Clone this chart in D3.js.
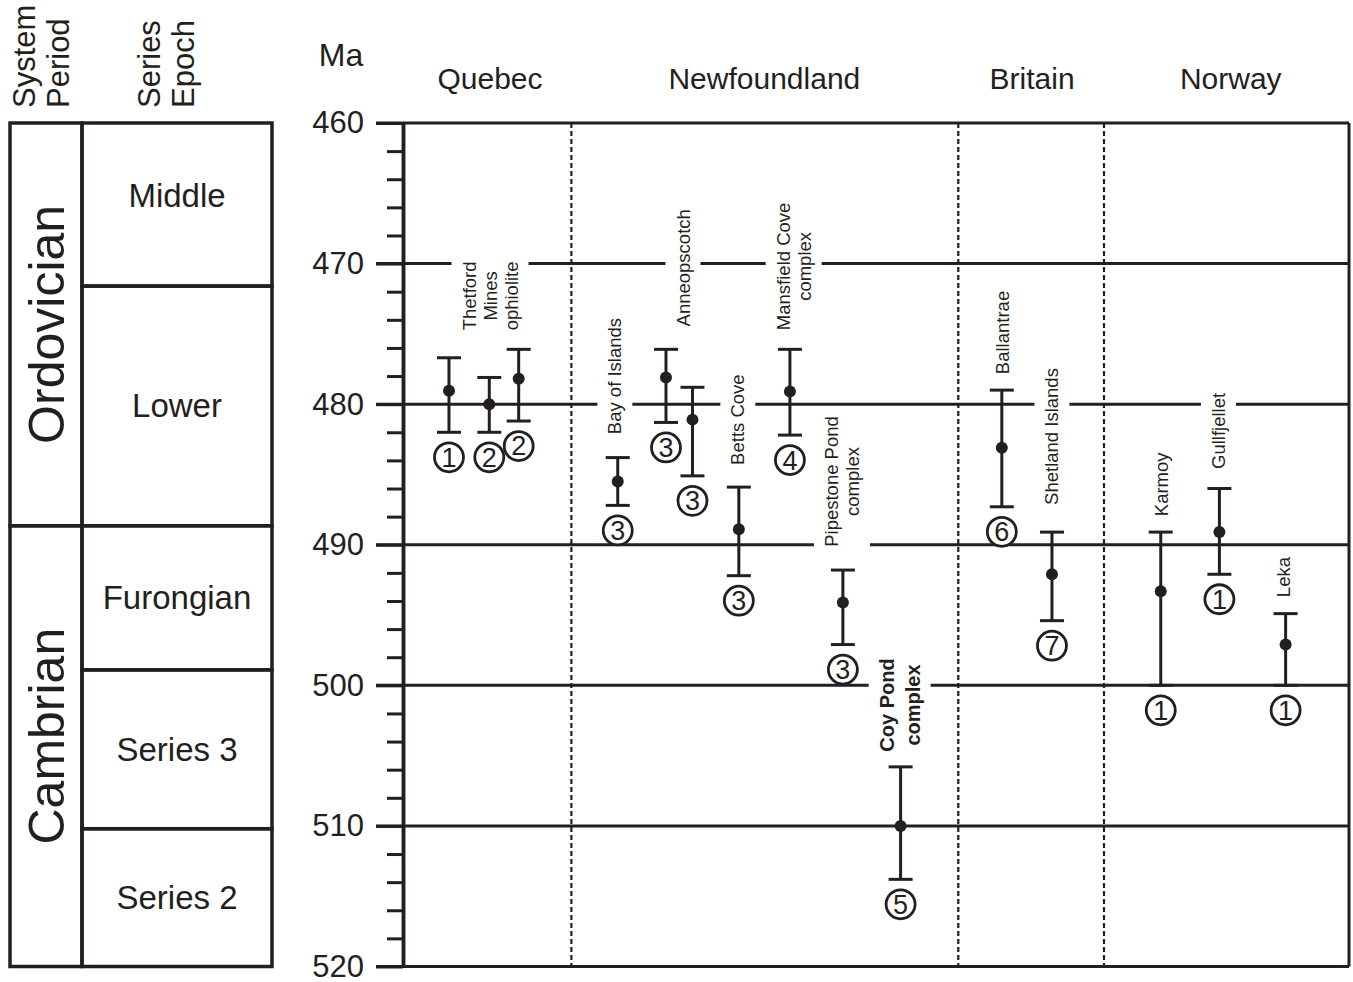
<!DOCTYPE html>
<html>
<head>
<meta charset="utf-8">
<script src="https://cdn.jsdelivr.net/npm/d3@7"></script>
<style>
  body { margin: 0; background: #fff; }
  text { font-family: "Liberation Sans", Arial, sans-serif; fill: #231f20; }
</style>
</head>
<body>
<div class="container"></div>
<script>
// regions across the top, placed on a 0-100 track scale
var regions = ["Quebec", "Newfoundland", "Britain", "Norway"];
var regionTrack = [9.2, 38.2, 66.5, 87.5];
var regionBreaks = [17.8, 58.7, 74.1];

// age axis
var majorTicks = [460, 470, 480, 490, 500, 510, 520];
var minorTicks = [462, 464, 466, 468, 472, 474, 476, 478, 482, 484, 486, 488,
                  492, 494, 496, 498, 502, 504, 506, 508, 512, 514, 516, 518];

// time scale column
var periods = ["Ordovician", "Cambrian"];
var periodBounds = [460, 488.65, 520];
var epochs = ["Middle", "Lower", "Furongian", "Series 3", "Series 2"];
var epochBounds = [460, 471.6, 488.65, 498.9, 510.2, 520];

// dated samples (Ma): best age, young end, old end, reference number
var barTrack = [4.86, 9.12, 12.23, 22.7, 27.8, 30.6, 35.5, 40.9, 46.5, 52.6, 63.3, 68.6, 80.1, 86.3, 93.3];
var barAge   = [479.05, 480.0, 478.2, 485.5, 478.1, 481.1, 488.9, 479.1, 494.1, 510.0, 483.1, 492.1, 493.3, 489.1, 497.1];
var barYoung = [476.7, 478.1, 476.1, 483.8, 476.1, 478.8, 485.9, 476.1, 491.8, 505.8, 479.0, 489.1, 489.1, 486.0, 494.9];
var barOld   = [482.0, 482.0, 481.2, 487.2, 481.3, 485.1, 492.2, 482.2, 497.1, 513.8, 487.3, 495.4, 500.0, 492.1, 500.0];
var barRef   = [1, 2, 2, 3, 3, 3, 3, 4, 3, 5, 6, 7, 1, 1, 1];

// locality names
var siteLines = [["Thetford", "Mines", "ophiolite"], ["Bay of Islands"], ["Anneopscotch"], ["Betts Cove"],
                 ["Mansfield Cove", "complex"], ["Pipestone Pond", "complex"], ["Coy Pond", "complex"],
                 ["Ballantrae"], ["Shetland Islands"], ["Karmoy"], ["Gullfjellet"], ["Leka"]];
var siteTrack = [9.2, 22.4, 29.6, 35.4, 41.3, 46.4, 52.5, 63.4, 68.6, 80.2, 86.2, 93.1];
var siteAge   = [472.3, 478.0, 470.3, 481.1, 470.2, 485.5, 501.4, 474.9, 482.3, 485.7, 481.9, 492.3];

var WIDTH = 1353, HEIGHT = 982;
var INK = "#231f20";

var svg = d3.select(".container").append("svg")
  .attr("width", WIDTH)
  .attr("height", HEIGHT);

var yScale = d3.scaleLinear().domain([460, 520]).range([123, 966.5]);
var xScale = d3.scaleLinear().domain([0, 100]).range([403, 1349]);

var translate = function(x, y) { return "translate(" + x + "," + y + ")"; };

// ---- left stratigraphic column ----
var colL = 10, colM = 82, colR = 272;
var strat = svg.append("g");

epochs.forEach(function(e, i) {
  var y0 = yScale(epochBounds[i]), y1 = yScale(epochBounds[i + 1]);
  strat.append("rect")
    .attr("x", colM).attr("y", y0)
    .attr("width", colR - colM).attr("height", y1 - y0)
    .attr("fill", "none").attr("stroke", INK).attr("stroke-width", 3.5);
  strat.append("text")
    .attr("x", (colM + colR) / 2)
    .attr("y", (y0 + y1) / 2 - (i === 0 ? 9 : 0))
    .attr("dy", "0.35em")
    .attr("text-anchor", "middle")
    .attr("font-size", 33)
    .text(e);
});

periods.forEach(function(p, i) {
  var y0 = yScale(periodBounds[i]), y1 = yScale(periodBounds[i + 1]);
  strat.append("rect")
    .attr("x", colL).attr("y", y0)
    .attr("width", colM - colL).attr("height", y1 - y0)
    .attr("fill", "none").attr("stroke", INK).attr("stroke-width", 3.5);
  strat.append("text")
    .attr("transform", translate((colL + colM) / 2, (y0 + y1) / 2 - (i ? 10 : 0)) + " rotate(-90)")
    .attr("dy", "0.36em")
    .attr("text-anchor", "middle")
    .attr("font-size", 50)
    .text(p);
});

// column headers
[["System", "Period", 35], ["Series", "Epoch", 160]].forEach(function(h) {
  var t = svg.append("text")
    .attr("transform", translate(h[2], 108) + " rotate(-90)")
    .attr("font-size", 31);
  t.append("tspan").attr("x", 0).attr("y", 0).text(h[0]);
  t.append("tspan").attr("x", 0).attr("y", 34).text(h[1]);
});

svg.append("text")
  .attr("x", 341).attr("y", 66)
  .attr("text-anchor", "middle")
  .attr("font-size", 32)
  .text("Ma");

svg.selectAll(".region")
  .data(regions)
  .enter().append("text")
  .attr("class", "region")
  .attr("x", function(d, i) { return xScale(regionTrack[i]); })
  .attr("y", 89)
  .attr("text-anchor", "middle")
  .attr("font-size", 30)
  .text(function(d) { return d; });

// ---- grid ----
var grid = svg.append("g");
grid.selectAll("line.major")
  .data(majorTicks)
  .enter().append("line")
  .attr("class", "major")
  .attr("x1", 376).attr("x2", xScale(100))
  .attr("y1", function(d) { return yScale(d); })
  .attr("y2", function(d) { return yScale(d); })
  .attr("stroke", INK).attr("stroke-width", 3);

grid.append("line")
  .attr("x1", xScale(100)).attr("x2", xScale(100))
  .attr("y1", yScale(460)).attr("y2", yScale(520))
  .attr("stroke", INK).attr("stroke-width", 3);

grid.selectAll("line.divider")
  .data(regionBreaks)
  .enter().append("line")
  .attr("class", "divider")
  .attr("x1", function(d) { return xScale(d); })
  .attr("x2", function(d) { return xScale(d); })
  .attr("y1", yScale(460)).attr("y2", yScale(520))
  .attr("stroke", INK).attr("stroke-width", 2.2)
  .attr("stroke-dasharray", "5,3");

// ---- y axis ----
var yAxis = d3.axisLeft(yScale)
  .tickValues(majorTicks)
  .tickSize(27)
  .tickSizeOuter(0)
  .tickPadding(12)
  .tickFormat(d3.format("d"));

var yMinor = d3.axisLeft(yScale)
  .tickValues(minorTicks)
  .tickSize(16)
  .tickSizeOuter(0)
  .tickFormat("");

var axisG = svg.append("g").attr("transform", translate(xScale(0), 0)).call(yAxis);
var minorG = svg.append("g").attr("transform", translate(xScale(0), 0)).call(yMinor);

[axisG, minorG].forEach(function(g) {
  g.select(".domain").attr("stroke", INK).attr("stroke-width", 3.5);
  g.selectAll(".tick line").attr("stroke", INK).attr("stroke-width", 3);
});
axisG.selectAll(".tick text")
  .attr("font-family", "Liberation Sans, Arial, sans-serif")
  .attr("font-size", 31)
  .attr("fill", INK);

// ---- locality labels (white backing breaks the grid lines) ----
siteLines.forEach(function(lines, i) {
  var bold = lines[0] === "Coy Pond";
  var g = svg.append("g")
    .attr("transform", translate(xScale(siteTrack[i]), yScale(siteAge[i])) + " rotate(-90)");
  var step = bold ? 26 : 21;
  var t = g.append("text")
    .attr("text-anchor", "middle")
    .attr("font-size", bold ? 20 : 18.5)
    .attr("font-weight", bold ? "bold" : "normal");
  lines.forEach(function(l, k) {
    t.append("tspan")
      .attr("x", 0)
      .attr("y", (k - (lines.length - 1) / 2) * step)
      .attr("dy", "0.35em")
      .text(l);
  });
  var bb = t.node().getBBox();
  g.insert("rect", "text")
    .attr("x", bb.x - 3).attr("y", bb.y - 7)
    .attr("width", bb.width + 6).attr("height", bb.height + 14)
    .attr("fill", "#fff");
});

// ---- error bars ----
var bars = svg.append("g").selectAll("g")
  .data(barAge)
  .enter().append("g")
  .attr("transform", function(d, i) { return translate(xScale(barTrack[i]), 0); });

bars.append("line")
  .attr("y1", function(d, i) { return yScale(barYoung[i]); })
  .attr("y2", function(d, i) { return yScale(barOld[i]); })
  .attr("stroke", INK).attr("stroke-width", 3);

bars.append("line")
  .attr("x1", -12).attr("x2", 12)
  .attr("y1", function(d, i) { return yScale(barYoung[i]); })
  .attr("y2", function(d, i) { return yScale(barYoung[i]); })
  .attr("stroke", INK).attr("stroke-width", 3);

bars.append("line")
  .attr("x1", -12).attr("x2", 12)
  .attr("y1", function(d, i) { return yScale(barOld[i]); })
  .attr("y2", function(d, i) { return yScale(barOld[i]); })
  .attr("stroke", INK).attr("stroke-width", 3);

bars.append("circle")
  .attr("cy", function(d) { return yScale(d); })
  .attr("r", 6)
  .attr("fill", INK);

// reference numbers in circles
bars.append("circle")
  .attr("cy", function(d, i) { return yScale(barOld[i]) + 25; })
  .attr("r", 14.5)
  .attr("fill", "#fff")
  .attr("stroke", INK).attr("stroke-width", 2.8);

bars.append("text")
  .attr("y", function(d, i) { return yScale(barOld[i]) + 25; })
  .attr("dy", "0.35em")
  .attr("text-anchor", "middle")
  .attr("font-family", "Liberation Serif, Times New Roman, serif")
  .attr("font-size", 27)
  .text(function(d, i) { return barRef[i]; });
</script>
</body>
</html>
